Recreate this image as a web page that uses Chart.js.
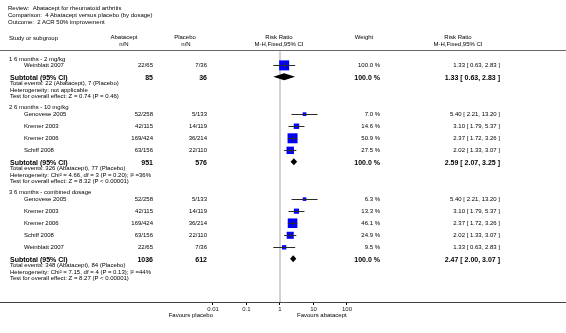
<!DOCTYPE html>
<html><head><meta charset="utf-8">
<script src="https://cdn.jsdelivr.net/npm/chart.js@4"></script>
<style>
html,body{margin:0;padding:0;background:#fff;}
#wrap{position:relative;width:566px;height:333px;overflow:hidden;font-family:"Liberation Sans",Arial,sans-serif;color:#000;background:#fff;}
#c{position:absolute;left:0;top:0;}
.t{position:absolute;white-space:nowrap;line-height:1;font-size:6px;}
</style></head><body>
<div id="wrap"><canvas id="c" width="566" height="333"></canvas></div>
<script>
// ---------------- DATA ----------------
const titleLines = ["Review:\u00a0\u00a0Abatacept for rheumatoid arthritis",
                    "Comparison:\u00a0\u00a04 Abatacept versus placebo (by dosage)",
                    "Outcome:\u00a0\u00a02 ACR 50% improvement"];
const groupLabels = ["1 6 months - 2 mg/kg", "2 6 months - 10 mg/kg", "3 6 months - combined dosage"];
const studyGroup = [0, 1, 1, 1, 1, 2, 2, 2, 2, 2];
const studyNames = ["Weinblatt 2007", "Genovese 2005", "Kremer 2003", "Kremer 2006", "Schiff 2008",
                    "Genovese 2005", "Kremer 2003", "Kremer 2006", "Schiff 2008", "Weinblatt 2007"];
const abaEvents = [22, 52, 42, 169, 63, 52, 42, 169, 63, 22];
const abaTotal  = [65, 258, 115, 424, 156, 258, 115, 424, 156, 65];
const plaEvents = [7, 5, 14, 36, 22, 5, 14, 36, 22, 7];
const plaTotal  = [36, 133, 119, 214, 110, 133, 119, 214, 110, 36];
const weights   = [100.0, 7.0, 14.6, 50.9, 27.5, 6.3, 13.3, 46.1, 24.9, 9.5];
const riskRatio = [1.33, 5.40, 3.10, 2.37, 2.02, 5.40, 3.10, 2.37, 2.02, 1.33];
const ciLow     = [0.63, 2.21, 1.79, 1.72, 1.33, 2.21, 1.79, 1.72, 1.33, 0.63];
const ciHigh    = [2.83, 13.20, 5.37, 3.26, 3.07, 13.20, 5.37, 3.26, 3.07, 2.83];
const subAbaTotal  = [85, 951, 1036];
const subPlaTotal  = [36, 576, 612];
const subAbaEvents = [22, 326, 348];
const subPlaEvents = [7, 77, 84];
const subWeight    = [100.0, 100.0, 100.0];
const subRR   = [1.33, 2.59, 2.47];
const subLow  = [0.63, 2.07, 2.00];
const subHigh = [2.83, 3.25, 3.07];
const heterogeneity = ["Heterogeneity: not applicable",
                       "Heterogeneity: Chi\u00b2 = 4.66, df = 3 (P = 0.20); I\u00b2 =36%",
                       "Heterogeneity: Chi\u00b2 = 7.15, df = 4 (P = 0.13); I\u00b2 =44%"];
const overallEffect = ["Test for overall effect: Z = 0.74 (P = 0.46)",
                       "Test for overall effect: Z = 8.32 (P < 0.00001)",
                       "Test for overall effect: Z = 8.27 (P < 0.00001)"];
const tickValues = [0.01, 0.1, 1, 10, 100];
const tickLabels = ["0.01", "0.1", "1", "10", "100"];
const favoursLeft = "Favours placebo";
const favoursRight = "Favours abatacept";

// ---------------- LAYOUT ----------------
const W = 566, H = 333, AXIS_Y = 302;
const ONE_PX = 280, DECADE_PX = 33.5;
const Y0_PX = 58.5, UNIT_PX = 6.55;
const HEAD_STEP = 1.05, STUDY_STEP = 1.84, SUB_STEP = 1.75, LINE_STEP = 1.0, GROUP_GAP = 1.65;
const HEADER_LINE_Y = 50.5;
const FONT = '"Liberation Sans", Arial, sans-serif';

function buildRows() {
  const rows = []; let s = 0;
  groupLabels.forEach((lab, g) => {
    rows.push({kind: 'group', g, s}); s += HEAD_STEP;
    const idx = studyGroup.map((gg, i) => gg === g ? i : -1).filter(i => i >= 0);
    idx.forEach((i, k) => { rows.push({kind: 'study', i, s}); s += (k < idx.length - 1) ? STUDY_STEP : SUB_STEP; });
    rows.push({kind: 'sub', g, s}); s += LINE_STEP;
    rows.push({kind: 'events', g, s}); s += LINE_STEP;
    rows.push({kind: 'het', g, s}); s += LINE_STEP;
    rows.push({kind: 'test', g, s}); s += GROUP_GAP;
  });
  return rows;
}
const rows = buildRows();
const studyRows = rows.filter(r => r.kind === 'study');
const subRows = rows.filter(r => r.kind === 'sub');
const squareSide = w => Math.max(3.6, Math.min(10, 10 * Math.sqrt(w / 50)));

const forestPlugin = {
  id: 'forest',
  beforeDatasetsDraw(chart) {
    const ctx = chart.ctx, xs = chart.scales.x;
    const x1 = xs.getPixelForValue(1);
    ctx.save();
    ctx.strokeStyle = '#666'; ctx.lineWidth = 1;
    ctx.beginPath(); ctx.moveTo(0, HEADER_LINE_Y); ctx.lineTo(W, HEADER_LINE_Y); ctx.stroke();
    ctx.strokeStyle = '#d2d2d2'; ctx.lineWidth = 2;
    ctx.beginPath(); ctx.moveTo(x1, HEADER_LINE_Y + 1); ctx.lineTo(x1, chart.chartArea.bottom); ctx.stroke();
    ctx.restore();
  },
  afterDatasetsDraw(chart) {
    const ctx = chart.ctx, xs = chart.scales.x, ys = chart.scales.y;
    ctx.save();
    studyRows.forEach(r => {
      const y = Math.round(ys.getPixelForValue(r.s)) + 0.5;
      const xl = xs.getPixelForValue(ciLow[r.i]), xh = xs.getPixelForValue(ciHigh[r.i]);
      const xm = xs.getPixelForValue(riskRatio[r.i]);
      ctx.strokeStyle = '#2a2a2a'; ctx.lineWidth = 1;
      ctx.beginPath(); ctx.moveTo(xl, y); ctx.lineTo(xh, y); ctx.stroke();
      const side = squareSide(weights[r.i]);
      if (side >= 6) {
        const hh = side * 0.3;
        ctx.beginPath(); ctx.moveTo(Math.round(xm) + 0.5, y - hh); ctx.lineTo(Math.round(xm) + 0.5, y + hh); ctx.stroke();
      }
    });
    subRows.forEach(r => {
      const y = ys.getPixelForValue(r.s);
      const xl = xs.getPixelForValue(subLow[r.g]), xh = xs.getPixelForValue(subHigh[r.g]);
      const xm = xs.getPixelForValue(subRR[r.g]);
      ctx.fillStyle = '#000';
      ctx.beginPath();
      ctx.moveTo(xl, y); ctx.lineTo(xm, y - 3.5); ctx.lineTo(xh, y); ctx.lineTo(xm, y + 3.5); ctx.closePath();
      ctx.fill();
    });
    ctx.restore();
  }
};

const chart = new Chart(document.getElementById('c'), {
  type: 'scatter',
  data: {
    datasets: [{
      data: studyRows.map(r => ({x: riskRatio[r.i], y: r.s})),
      pointStyle: 'rect',
      pointRadius: studyRows.map(r => squareSide(weights[r.i]) / (2 * Math.SQRT1_2)),
      backgroundColor: '#0000ff',
      borderWidth: 0,
      clip: false
    }]
  },
  options: {
    responsive: false,
    animation: false,
    events: [],
    devicePixelRatio: 1,
    layout: {padding: 0, autoPadding: false},
    plugins: {legend: {display: false}, tooltip: {enabled: false}},
    scales: {
      x: {
        type: 'logarithmic',
        position: 'bottom',
        bounds: 'data',
        min: Math.pow(10, -ONE_PX / DECADE_PX),
        max: Math.pow(10, (W - ONE_PX) / DECADE_PX),
        afterBuildTicks: s => { s.ticks = tickValues.map(v => ({value: v})); },
        afterFit: s => { s.height = H - AXIS_Y; },
        grid: {display: true, drawOnChartArea: false, drawTicks: true, tickLength: 3, color: '#000', lineWidth: 1},
        border: {display: true, color: '#444', width: 1},
        ticks: {
          autoSkip: false, maxRotation: 0, padding: 1, color: '#222',
          font: {size: 6, family: FONT},
          callback: (v, i) => tickLabels[i]
        }
      },
      y: {
        type: 'linear', display: false, reverse: true,
        min: -Y0_PX / UNIT_PX, max: (AXIS_Y - Y0_PX) / UNIT_PX
      }
    }
  },
  plugins: [forestPlugin]
});

// ---------------- TEXT (HTML) ----------------
const wrap = document.getElementById('wrap');
function addText(txt, x, y, align, opts) {
  opts = opts || {};
  const d = document.createElement('div');
  d.className = 't';
  d.textContent = txt;
  d.style.left = x + 'px';
  d.style.top = y + 'px';
  if (opts.size) d.style.fontSize = opts.size + 'px';
  if (opts.bold) d.style.fontWeight = 'bold';
  const tx = align === 'right' ? '-100%' : align === 'center' ? '-50%' : '0';
  d.style.transform = 'translate(' + tx + ',-50%)';
  wrap.appendChild(d);
}
const xs = chart.scales.x, ys = chart.scales.y;
const yOf = s => ys.getPixelForValue(s);
const x1 = xs.getPixelForValue(1);
const COL_ABA = 153, COL_PLA = 207, COL_W = 380, COL_RR = 500;
const fmtCI = (a, b, c) => a.toFixed(2) + ' [ ' + b.toFixed(2) + ', ' + c.toFixed(2) + ' ]';

titleLines.forEach((t, k) => addText(t, 8, 8 + k * 7, 'left'));
addText('Study or subgroup', 9, 38, 'left');
addText('Abatacept', 124, 37, 'center'); addText('n/N', 124, 44, 'center');
addText('Placebo', 185, 37, 'center'); addText('n/N', 186, 44, 'center');
addText('Risk Ratio', x1 - 1, 37, 'center'); addText('M-H,Fixed,95% CI', x1 - 1, 44, 'center');
addText('Weight', 364, 37, 'center');
addText('Risk Ratio', 458, 37, 'center'); addText('M-H,Fixed,95% CI', 458, 44, 'center');

rows.forEach(r => {
  const y = yOf(r.s);
  if (r.kind === 'group') addText(groupLabels[r.g], 9, y, 'left');
  else if (r.kind === 'study') {
    const i = r.i;
    addText(studyNames[i], 24, y, 'left');
    addText(abaEvents[i] + '/' + abaTotal[i], COL_ABA, y, 'right');
    addText(plaEvents[i] + '/' + plaTotal[i], COL_PLA, y, 'right');
    addText(weights[i].toFixed(1) + ' %', COL_W, y, 'right');
    addText(fmtCI(riskRatio[i], ciLow[i], ciHigh[i]), COL_RR, y, 'right');
  } else if (r.kind === 'sub') {
    const g = r.g, o = {bold: true, size: 7};
    addText('Subtotal (95% CI)', 10, y, 'left', o);
    addText(String(subAbaTotal[g]), COL_ABA, y, 'right', o);
    addText(String(subPlaTotal[g]), COL_PLA, y, 'right', o);
    addText(subWeight[g].toFixed(1) + ' %', COL_W, y, 'right', o);
    addText(fmtCI(subRR[g], subLow[g], subHigh[g]), COL_RR, y, 'right', o);
  } else if (r.kind === 'events') {
    addText('Total events: ' + subAbaEvents[r.g] + ' (Abatacept), ' + subPlaEvents[r.g] + ' (Placebo)', 10, y, 'left');
  } else if (r.kind === 'het') addText(heterogeneity[r.g], 10, y, 'left');
  else if (r.kind === 'test') addText(overallEffect[r.g], 10, y, 'left');
});
addText(favoursLeft, x1 - 67, 315, 'right');
addText(favoursRight, x1 + 17, 315, 'left');
</script></body></html>
